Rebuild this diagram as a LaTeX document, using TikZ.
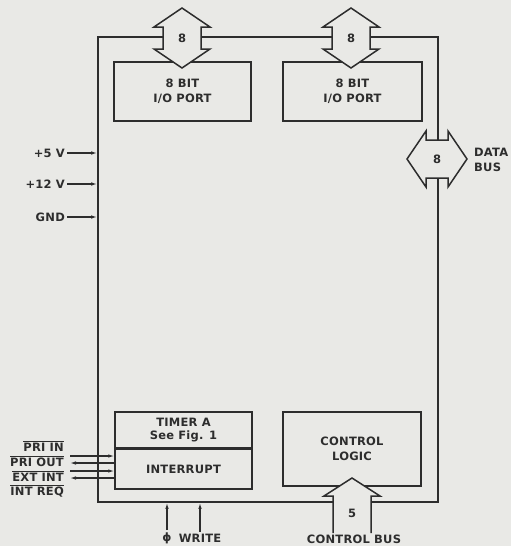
\documentclass[tikz,border=0pt]{standalone}
\usepackage{fontspec}
\usepackage{tikz}
\usetikzlibrary{arrows.meta,positioning,calc}
\newfontfamily\chipfont[LetterSpace=2]{DejaVu Sans}
\definecolor{paper}{RGB}{233,233,230}
\definecolor{ink}{RGB}{45,45,45}
\tikzset{
  lbl/.style={text=ink, font=\chipfont\bfseries\fontsize{11.5}{15.5}\selectfont, inner sep=2pt, align=center},
  blk/.style={lbl, draw=ink, line width=1.5pt},
  sig/.style={-{Latex[length=6pt,width=3.5pt]}, ink, line width=1.1pt},
  bus/.style={draw=ink, fill=paper, line width=1.5pt, line join=miter},
  dbus/.pic={\filldraw[bus] (0,-30) -- (28,-11) -- (19,-11) -- (19,11) -- (28,11) -- (0,30)
    -- (-28,11) -- (-19,11) -- (-19,-11) -- (-28,-11) -- cycle;},
  sbus/.pic={\filldraw[bus] (-19,55) -- (-19,18) -- (-28,18) -- (0,0) -- (28,18) -- (19,18) -- (19,55);},
}
\begin{document}
\begin{tikzpicture}[x=1pt,y=-1pt]
  \fill[paper] (0,0) rectangle (511,546);
  % chip outline
  \node[draw=ink, line width=1.8pt, minimum width=340pt, minimum height=465pt] (chip) at (268,269.5) {};
  \node[blk, minimum width=137pt, minimum height=59pt] (port1) at (182.5,91.5) {8 BIT\\I/O PORT};
  \node[blk, minimum width=139pt, minimum height=59pt] (port2) at (352.5,91.5) {8 BIT\\I/O PORT};
  \node[blk, minimum width=137pt, minimum height=36pt, font=\chipfont\bfseries\fontsize{11.5}{13.5}\selectfont] (timer) at (183.5,430) {TIMER A\\See Fig. 1};
  \node[blk, minimum width=137pt, minimum height=39.5pt, below=0pt of timer] (intr) {INTERRUPT};
  \node[blk, minimum width=138pt, minimum height=74pt] (ctrl) at (352,449) {CONTROL\\LOGIC};

  % buses
  \pic at (182,38) {dbus};
  \node[lbl] (w1) at (182,38) {8};
  \pic at (351,38) {dbus};
  \node[lbl] (w2) at (351,38) {8};
  \pic[rotate=90] at (437,159) {dbus};
  \node[lbl] (w3) at (437,159) {8};
  \node[lbl, anchor=west, align=left] (dbus) at (472,160) {DATA\\BUS};
  \pic at (352,478) {sbus};
  \node[lbl] (w4) at (352,513) {5};
  \node[lbl] (cbus) at (354,539) {CONTROL BUS};

  % supply
  \node[lbl, anchor=east] (v5) at (67,153) {+5 V};
  \node[lbl, anchor=east] (v12) at (67,184) {+12 V};
  \node[lbl, anchor=east] (gnd) at (67,217) {GND};
  \foreach \p in {v5,v12,gnd}
    \draw[sig] (\p.east) -- (\p.east -| chip.west);

  % interrupt lines
  \node[lbl, anchor=east] (lpi) at (66,446) {$\overline{\mbox{PRI IN}}$};
  \node[lbl, anchor=east] (lpo) at (66,461) {$\overline{\mbox{PRI OUT}}$};
  \node[lbl, anchor=east] (lei) at (66,476) {$\overline{\mbox{EXT INT}}$};
  \node[lbl, anchor=east] (lir) at (66,491) {$\overline{\mbox{INT REQ}}$};
  \coordinate (pi) at (70,456);
  \coordinate (po) at (70,463);
  \coordinate (ei) at (70,471);
  \coordinate (ir) at (70,478);
  \draw[sig] (pi) -- (pi -| intr.west);
  \draw[sig] (po -| intr.west) -- (po);
  \draw[sig] (ei) -- (ei -| intr.west);
  \draw[sig] (ir -| intr.west) -- (ir);

  % clock and write
  \node[lbl] (phi) at (167,538) {ϕ};
  \node[lbl] (wr) at (200,538) {WRITE};
  \draw[sig] (phi.north) -- (phi.north |- chip.south);
  \draw[sig] (wr.north) -- (wr.north |- chip.south);
\end{tikzpicture}
\end{document}
